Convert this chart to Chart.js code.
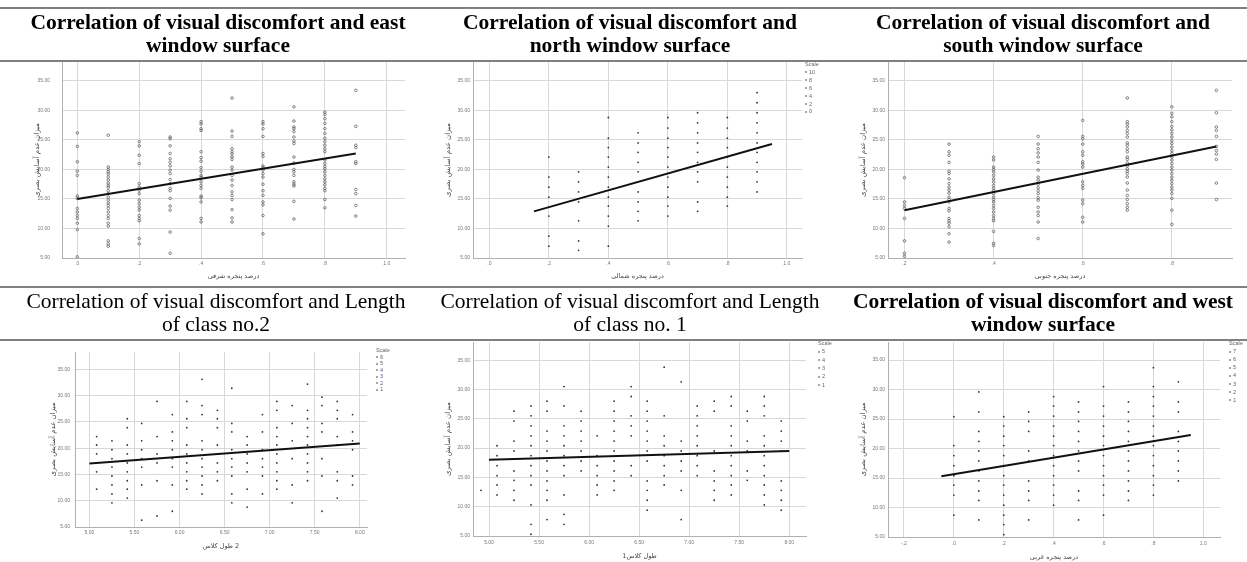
<!DOCTYPE html>
<html><head><meta charset="utf-8">
<script src="https://cdn.jsdelivr.net/npm/chart.js@4.4.1/dist/chart.umd.min.js"></script>
<style>
html,body{margin:0;padding:0;background:#fff}
body{width:1247px;height:562px;position:relative;overflow:hidden;font-family:"Liberation Serif","Times New Roman",serif}
.rule{position:absolute;left:0;width:1247px;height:2px;background:#808080;z-index:3}
.title{position:absolute;width:440px;text-align:center;font-size:21.5px;line-height:23px;color:#000;white-space:nowrap;z-index:2}
.b{font-weight:bold}
.box{position:absolute;z-index:1}
.box canvas{display:block}
.lg{position:absolute;font-family:"Liberation Sans",Arial,sans-serif;font-size:5.5px;line-height:6px;color:#666;white-space:nowrap;z-index:2}
.dot{display:inline-block;width:2px;height:2px;border-radius:50%;background:#888;margin-right:2px;vertical-align:middle}
</style>
</head><body>
<div class="rule" style="top:7px"></div>
<div class="rule" style="top:60px"></div>
<div class="rule" style="top:286px"></div>
<div class="rule" style="top:339px"></div>

<div class="title b" style="left:-2px;top:11px">Correlation of visual discomfort and east<br>window surface</div>
<div class="title b" style="left:410px;top:11px">Correlation of visual discomfort and<br>north window surface</div>
<div class="title b" style="left:823px;top:11px">Correlation of visual discomfort and<br>south window surface</div>
<div class="title" style="left:-4px;top:290px">Correlation of visual discomfort and Length<br>of class no.2</div>
<div class="title" style="left:410px;top:290px">Correlation of visual discomfort and Length<br>of class no. 1</div>
<div class="title b" style="left:823px;top:290px">Correlation of visual discomfort and west<br>window surface</div>

<script>
// ---------- shared axis values ----------
const yTickValues = [5, 10, 15, 20, 25, 30, 35];
const yTickLabels = ['5.00', '10.00', '15.00', '20.00', '25.00', '30.00', '35.00'];
const yAxisTitle = 'میزان عدم آسایش بصری';

// ---------- panel 1: east window ----------
const eastX = [0, 0.1, 0.2, 0.3, 0.4, 0.5, 0.6, 0.7, 0.8, 0.9];
const eastY = [
  [26.2, 23.9, 21.3, 19.7, 19.0, 15.5, 15.1, 13.4, 12.8, 12.2, 11.7, 10.9, 9.8, 5.2],
  [25.8, 20.4, 20.0, 19.6, 19.2, 18.7, 18.2, 17.7, 17.3, 17.0, 16.4, 15.9, 15.3, 14.8, 14.3, 13.9, 13.4, 12.8, 12.2, 11.7, 10.9, 10.4, 7.9, 7.4, 7.0],
  [24.7, 24.0, 22.4, 21.0, 17.6, 17.0, 16.5, 15.9, 14.8, 14.2, 13.6, 13.1, 12.2, 11.7, 11.3, 8.3, 7.4],
  [25.5, 25.2, 24.0, 22.7, 21.8, 21.2, 20.6, 19.9, 19.3, 18.3, 17.6, 16.8, 16.4, 15.1, 13.8, 13.1, 9.4, 5.8],
  [28.1, 27.7, 26.9, 26.6, 23.0, 22.0, 21.4, 20.3, 19.7, 19.0, 18.7, 17.9, 17.3, 16.8, 15.5, 15.2, 14.5, 11.7, 11.1],
  [32.1, 26.5, 25.6, 23.5, 23.0, 22.6, 22.1, 21.7, 20.4, 19.9, 19.0, 18.2, 17.3, 16.2, 15.6, 14.9, 13.2, 11.8, 11.1],
  [28.1, 27.7, 26.9, 25.6, 22.7, 22.2, 20.6, 20.3, 19.9, 19.3, 18.7, 17.5, 16.4, 15.6, 14.5, 14.0, 12.2, 9.1],
  [30.6, 28.2, 27.2, 26.9, 26.4, 25.5, 24.8, 24.4, 22.1, 21.1, 20.0, 19.6, 19.0, 17.9, 17.5, 17.2, 14.6, 11.6],
  [29.7, 29.3, 28.6, 27.8, 26.9, 26.1, 25.3, 24.7, 24.1, 23.5, 23.0, 21.6, 21.0, 20.5, 20.1, 19.6, 19.0, 18.4, 17.9, 17.4, 16.8, 16.4, 14.9, 13.5],
  [33.4, 27.3, 24.1, 23.7, 21.3, 21.0, 16.6, 15.9, 13.9, 12.1]
];
const eastFitX = [0, 0.9];
const eastFitY = [15.0, 22.7];
const eastTicks = [0, 0.2, 0.4, 0.6, 0.8, 1.0];
const eastTickLabels = ['.0', '.2', '.4', '.6', '.8', '1.0'];
const eastTitle = 'درصد پنجره شرقی';

// ---------- panel 2: north window ----------
const northX = [0.2, 0.3, 0.4, 0.5, 0.6, 0.7, 0.8, 0.9];
const northY = [
  [22.1, 18.7, 17.0, 15.3, 12.1, 8.7, 7.0],
  [19.6, 17.9, 16.2, 14.5, 11.3, 7.9, 6.3],
  [28.8, 25.3, 23.7, 22.1, 20.4, 18.7, 17.0, 15.3, 13.8, 12.1, 10.4, 7.0],
  [26.2, 24.5, 22.9, 21.2, 19.6, 16.2, 14.5, 12.9, 11.3],
  [28.8, 27.0, 25.3, 23.7, 22.1, 20.4, 18.7, 17.0, 15.3, 13.8, 12.1],
  [29.6, 27.9, 26.2, 24.5, 22.9, 21.2, 19.6, 17.9, 14.5, 12.9],
  [28.8, 27.0, 25.3, 23.7, 22.1, 20.4, 18.7, 17.0, 15.3, 13.8],
  [33.0, 31.3, 29.6, 27.9, 26.2, 24.5, 22.9, 21.2, 19.6, 17.9, 16.2]
];
const northFitX = [0.15, 0.95];
const northFitY = [12.9, 24.3];
const northTicks = [0, 0.2, 0.4, 0.6, 0.8, 1.0];
const northTickLabels = ['.0', '.2', '.4', '.6', '.8', '1.0'];
const northTitle = 'درصد پنجره شمالی';
const northScale = [10, 8, 6, 4, 2, 0];

// ---------- panel 3: south window ----------
const southX = [0.2, 0.3, 0.4, 0.5, 0.6, 0.7, 0.8, 0.9];
const southY = [
  [18.6, 14.5, 13.9, 13.4, 11.7, 7.9, 5.8, 5.3],
  [24.3, 23.0, 22.4, 21.2, 19.7, 19.3, 18.4, 17.6, 17.0, 16.5, 16.0, 15.3, 14.9, 14.5, 13.4, 13.0, 11.7, 11.3, 10.9, 10.3, 9.1, 7.7],
  [22.1, 21.6, 20.4, 20.0, 19.6, 19.0, 18.4, 17.9, 17.3, 16.8, 16.4, 15.9, 15.3, 14.9, 14.5, 13.9, 13.4, 12.8, 12.2, 11.7, 11.3, 9.5, 7.5, 7.1],
  [25.6, 24.3, 23.5, 22.8, 22.1, 21.2, 19.9, 18.7, 18.2, 17.5, 16.9, 16.4, 15.9, 15.2, 14.8, 13.6, 12.8, 12.2, 11.1, 8.3],
  [28.3, 25.6, 25.2, 24.3, 23.0, 22.4, 21.3, 20.9, 20.4, 17.9, 17.3, 16.8, 14.8, 14.2, 11.9, 11.1],
  [32.1, 28.1, 27.7, 27.2, 26.6, 26.1, 25.5, 24.5, 24.1, 23.5, 23.0, 22.1, 21.7, 21.1, 20.6, 20.1, 19.7, 19.3, 18.7, 17.7, 16.5, 15.6, 14.9, 14.2, 13.6, 13.1],
  [30.6, 29.5, 28.9, 28.1, 27.3, 26.7, 26.1, 25.5, 24.9, 24.4, 23.8, 23.2, 22.7, 22.1, 21.6, 21.0, 20.4, 19.9, 19.3, 18.7, 18.2, 17.6, 17.0, 16.5, 15.9, 15.1, 13.1, 10.7],
  [33.4, 29.6, 27.2, 26.6, 25.6, 23.9, 23.2, 22.6, 21.7, 17.7, 14.9]
];
const southFitX = [0.2, 0.9];
const southFitY = [13.1, 23.9];
const southTicks = [0.2, 0.4, 0.6, 0.8];
const southTickLabels = ['.2', '.4', '.6', '.8'];
const southTitle = 'درصد پنجره جنوبی';

// ---------- panel 4: length of class 2 ----------
const class2X = [5.08, 5.25, 5.42, 5.58, 5.75, 5.92, 6.08, 6.25, 6.42, 6.58, 6.75, 6.92, 7.08, 7.25, 7.42, 7.58, 7.75, 7.92];
const class2Y = [
  [22.2, 20.6, 18.9, 15.5, 12.2],
  [21.4, 19.7, 18.0, 16.4, 14.7, 13.0, 11.3, 9.6],
  [25.6, 23.9, 20.6, 18.9, 17.2, 15.5, 13.8, 12.2, 10.5],
  [24.7, 21.4, 19.7, 18.0, 16.4, 13.0, 6.3],
  [28.9, 22.2, 18.9, 17.2, 13.8, 7.1],
  [26.4, 23.1, 21.4, 19.7, 18.0, 16.4, 13.0, 8.0],
  [28.9, 25.6, 23.9, 20.6, 18.9, 17.2, 15.5, 13.8, 12.2],
  [33.1, 28.1, 26.4, 21.4, 19.7, 18.0, 16.4, 14.7, 13.0, 11.3],
  [27.2, 25.6, 23.9, 20.6, 17.2, 15.5, 13.8],
  [31.4, 24.7, 23.1, 19.7, 18.0, 16.4, 14.7, 11.3, 9.6],
  [22.2, 20.6, 18.9, 17.2, 15.5, 12.2, 8.8],
  [26.4, 23.1, 19.7, 18.0, 16.4, 14.7, 11.3],
  [28.9, 27.2, 23.9, 22.2, 20.6, 18.9, 17.2, 15.5, 13.8, 12.2],
  [28.1, 24.7, 21.4, 18.0, 13.0, 9.6],
  [32.2, 27.2, 25.6, 23.9, 22.2, 20.6, 18.9, 17.2, 15.5, 13.8],
  [29.7, 28.1, 24.7, 23.1, 18.0, 14.7, 8.0],
  [28.9, 27.2, 25.6, 22.2, 20.6, 15.5, 13.8, 10.5],
  [26.4, 23.1, 21.4, 19.7, 14.7, 13.0]
];
const class2FitX = [5.0, 8.0];
const class2FitY = [17.1, 20.9];
const lengthTicks = [5, 5.5, 6, 6.5, 7, 7.5, 8];
const lengthTickLabels = ['5.00', '5.50', '6.00', '6.50', '7.00', '7.50', '8.00'];
const class2Title = 'طول کلاس\u200E 2';
const class2Scale = [6, 5, 4, 3, 2, 1];

// ---------- panel 5: length of class 1 ----------
const class1X = [4.92, 5.08, 5.25, 5.42, 5.58, 5.75, 5.92, 6.08, 6.25, 6.42, 6.58, 6.75, 6.92, 7.08, 7.25, 7.42, 7.58, 7.75, 7.92];
const class1Y = [
  [12.8],
  [20.4, 18.7, 17.0, 15.3, 13.7, 12.0],
  [26.3, 24.6, 21.2, 19.5, 16.1, 14.5, 12.8, 11.1],
  [27.2, 25.5, 23.8, 22.1, 20.4, 18.7, 17.0, 15.3, 13.7, 10.3, 7.0, 5.3],
  [28.0, 26.3, 22.9, 21.2, 19.5, 17.8, 16.1, 14.4, 12.8, 11.1, 7.8],
  [30.5, 27.2, 23.8, 22.1, 20.4, 18.7, 17.0, 15.3, 12.0, 8.7, 7.0],
  [26.3, 24.6, 22.9, 21.2, 19.5, 17.8, 16.1],
  [22.1, 18.7, 17.0, 15.3, 13.7, 12.0],
  [28.0, 26.3, 24.6, 22.9, 21.2, 19.5, 17.8, 16.1, 14.4, 12.8],
  [30.5, 28.8, 25.5, 23.8, 22.1, 17.0, 15.3],
  [28.0, 26.3, 24.6, 22.9, 21.2, 19.5, 17.8, 14.4, 12.8, 11.1, 9.4],
  [33.8, 25.5, 22.1, 20.4, 18.7, 17.0, 15.3, 13.7],
  [31.3, 21.2, 19.5, 17.8, 16.1, 12.8, 7.8],
  [27.2, 25.5, 23.8, 22.1, 20.4, 18.7, 17.0, 15.3],
  [28.0, 26.3, 19.5, 16.1, 14.4, 12.8, 11.1],
  [28.8, 27.2, 23.8, 22.1, 20.4, 18.7, 17.0, 15.3, 13.7, 12.0],
  [26.3, 24.6, 21.2, 19.5, 16.1, 14.5],
  [28.8, 27.2, 25.5, 22.1, 20.4, 18.7, 17.0, 15.3, 13.7, 12.0, 10.3],
  [24.6, 22.9, 21.2, 19.5, 14.4, 12.8, 11.1, 9.4]
];
const class1FitX = [5.0, 8.0];
const class1FitY = [18.0, 19.5];
const class1Title = 'طول کلاس1';
const class1Scale = [5, 4, 3, 2, 1];

// ---------- panel 6: west window ----------
const westX = [0, 0.1, 0.2, 0.3, 0.4, 0.5, 0.6, 0.7, 0.8, 0.9];
const westY = [
  [25.4, 20.5, 18.8, 17.1, 15.4, 13.8, 12.1, 8.7],
  [29.6, 26.2, 22.9, 21.2, 19.6, 17.9, 16.2, 14.5, 12.8, 11.2, 7.9],
  [25.4, 23.8, 22.1, 20.5, 18.8, 17.1, 15.4, 13.8, 12.1, 10.4, 8.7, 7.1, 5.4],
  [26.2, 24.6, 22.9, 19.6, 17.9, 14.5, 12.8, 11.2, 7.9],
  [28.8, 27.2, 25.5, 23.8, 22.1, 20.5, 18.8, 17.1, 15.4, 13.8, 12.1, 10.4],
  [27.9, 26.2, 24.6, 22.9, 21.2, 19.6, 17.9, 16.2, 12.8, 11.2, 7.9],
  [30.5, 27.2, 25.5, 23.8, 22.1, 20.5, 18.8, 17.1, 15.4, 13.8, 12.1, 8.7],
  [27.9, 26.2, 24.6, 22.9, 21.2, 19.6, 17.9, 16.2, 14.5, 12.8, 11.2],
  [33.7, 30.5, 28.8, 27.2, 25.5, 23.8, 22.1, 20.5, 18.8, 17.1, 15.4, 13.8, 12.1],
  [31.3, 27.9, 26.2, 22.9, 21.2, 19.6, 17.9, 16.2, 14.5]
];
const westFitX = [-0.05, 0.95];
const westFitY = [15.3, 22.3];
const westTicks = [-0.2, 0, 0.2, 0.4, 0.6, 0.8, 1.0];
const westTickLabels = ['-.2', '.0', '.2', '.4', '.6', '.8', '1.0'];
const westTitle = 'درصد پنجره غربی';
const westScale = [7, 6, 5, 4, 3, 2, 1];

// ---------- drawing ----------
const tickFont = {family: '"Liberation Sans", Arial, sans-serif', size: 5};
const axisTitleFont = {family: '"DejaVu Sans", sans-serif', size: 6.5};

function panel(g, xs, ys, fitX, fitY, xTicks, xLabels, xTitle, hollow) {
  const yW = g.yW || 30, xH = g.xH || 22, pt = 18, pr = 6;
  const wrap = document.createElement('div');
  wrap.className = 'box';
  wrap.style.left = (g.L - yW) + 'px';
  wrap.style.top = (g.T - pt) + 'px';
  wrap.style.width = (g.R - g.L + yW + pr) + 'px';
  wrap.style.height = (g.B - g.T + pt + xH) + 'px';
  const cv = document.createElement('canvas');
  wrap.appendChild(cv);
  document.body.appendChild(wrap);
  const pts = [];
  xs.forEach((x, i) => ys[i].forEach(y => pts.push({x: x, y: y})));
  new Chart(cv, {
    type: 'scatter',
    data: {datasets: [
      {data: fitX.map((x, i) => ({x: x, y: fitY[i]})), showLine: true, borderColor: '#111', borderWidth: 2, pointRadius: 0, pointHoverRadius: 0},
      {data: pts, pointRadius: hollow ? 1.3 : 0.9, pointBorderWidth: hollow ? 0.7 : 0,
       pointBorderColor: '#555', pointBackgroundColor: hollow ? 'rgba(0,0,0,0)' : '#333', pointHoverRadius: 0}
    ]},
    options: {
      responsive: true, maintainAspectRatio: false, animation: false, devicePixelRatio: 1,
      layout: {padding: {top: pt, right: pr, left: 0, bottom: 0}},
      plugins: {legend: {display: false}, tooltip: {enabled: false}},
      events: [],
      scales: {
        x: {
          type: 'linear', min: g.xmin, max: g.xmax,
          afterFit: s => { s.height = xH; },
          afterBuildTicks: s => { s.ticks = xTicks.map(v => ({value: v})); },
          ticks: {autoSkip: false, maxRotation: 0, minRotation: 0, padding: g.xp || 3, font: tickFont, color: '#777',
                  callback: (v, i) => xLabels[i]},
          grid: {color: '#d8d8d8', lineWidth: 1, drawTicks: false},
          border: {color: '#b0b0b0', width: 1},
          title: {display: true, text: xTitle, font: axisTitleFont, color: '#444', padding: {top: 0, bottom: 0}}
        },
        y: {
          type: 'linear', min: 5, max: g.ymax,
          afterFit: s => { s.width = yW; },
          afterBuildTicks: s => { s.ticks = yTickValues.map(v => ({value: v})); },
          ticks: {autoSkip: false, padding: g.yp || 3, font: tickFont, color: '#777',
                  callback: (v, i) => yTickLabels[i]},
          grid: {color: '#d8d8d8', lineWidth: 1, drawTicks: false},
          border: {color: '#b0b0b0', width: 1},
          title: {display: true, text: yAxisTitle, font: {family: '"DejaVu Sans", sans-serif', size: 7}, color: '#444', padding: {top: 0.8, bottom: 0}}
        }
      }
    }
  });
}

function scaleLegend(left, top, step, values) {
  const mk = (html, y) => {
    const d = document.createElement('div');
    d.className = 'lg';
    d.style.left = left + 'px';
    d.style.top = (y - 3) + 'px';
    d.innerHTML = html;
    document.body.appendChild(d);
  };
  mk('Scale', top);
  values.forEach((v, i) => mk('<span class="dot"></span>' + v, top + step * (i + 1)));
}

panel({L: 62, T: 62, R: 405, B: 258, xmin: -0.0495, xmax: 1.059, ymax: 38.2, yp: 12, xp: 3},
      eastX, eastY, eastFitX, eastFitY, eastTicks, eastTickLabels, eastTitle, true);
panel({L: 473, T: 62, R: 802, B: 258, xmin: -0.055, xmax: 1.051, ymax: 38.2, yp: 3, xp: 3},
      northX, northY, northFitX, northFitY, northTicks, northTickLabels, northTitle, false);
panel({L: 888, T: 62, R: 1232, B: 258, xmin: 0.163, xmax: 0.935, ymax: 38.2, yp: 3, xp: 3},
      southX, southY, southFitX, southFitY, southTicks, southTickLabels, southTitle, true);
panel({L: 75, T: 352, R: 367, B: 527, xmin: 4.84, xmax: 8.08, ymax: 38.3, yp: 5, xp: 3, yW: 27, xH: 23},
      class2X, class2Y, class2FitX, class2FitY, lengthTicks, lengthTickLabels, class2Title, false);
panel({L: 473, T: 342, R: 806, B: 536, xmin: 4.84, xmax: 8.167, ymax: 38.1, yp: 3, xp: 4, xH: 24},
      class1X, class1Y, class1FitX, class1FitY, lengthTicks, lengthTickLabels, class1Title, false);
panel({L: 888, T: 342, R: 1220, B: 537, xmin: -0.264, xmax: 1.067, ymax: 38.06, yp: 3, xp: 4, xH: 24},
      westX, westY, westFitX, westFitY, westTicks, westTickLabels, westTitle, false);

scaleLegend(805, 64, 7.9, northScale);
scaleLegend(376, 350, 6.5, class2Scale);
scaleLegend(818, 343, 8.3, class1Scale);
scaleLegend(1229, 343, 8.1, westScale);
</script>
</body></html>
